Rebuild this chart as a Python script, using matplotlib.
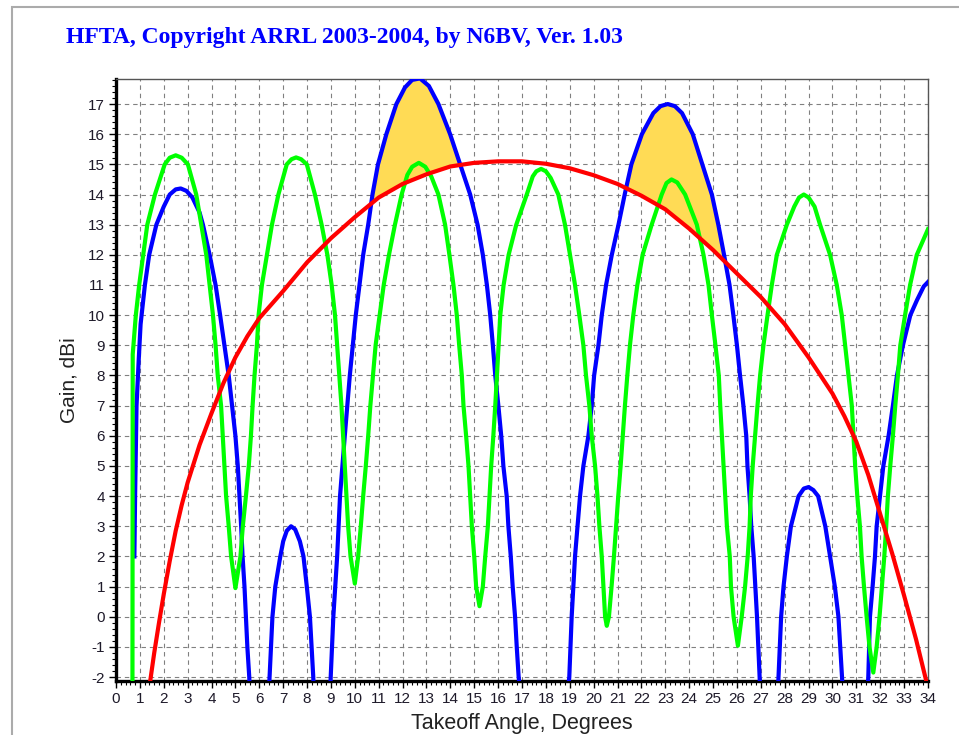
import numpy as np
import matplotlib
matplotlib.use("Agg")
import matplotlib.pyplot as plt
from matplotlib.patches import Rectangle
from matplotlib.ticker import MultipleLocator

plt.rcParams["axes.unicode_minus"] = False

# HFTA elevation response, gain (dBi) vs takeoff angle (degrees)
# values below -2 dBi are deep nulls and get clipped by the axis

blue_x = [0.77, 0.8, 0.86, 0.95, 1.03, 1.21, 1.39, 1.69, 2.0, 2.25, 2.5, 2.71, 2.95, 3.2, 3.5,
          3.64, 3.92, 4.17, 4.36, 4.54, 4.72, 4.86, 5.0, 5.1, 5.17, 5.24, 5.3, 5.38, 5.44, 5.5, 5.58, 5.95,
          6.43, 6.55, 6.67, 6.88, 7.0, 7.15, 7.33, 7.5, 7.7, 7.85, 7.99, 8.12, 8.26, 8.6,
          8.99, 9.1, 9.26, 9.38, 9.58, 9.79, 10.04, 10.35, 10.56, 10.74, 10.97, 11.32, 11.74, 12.1, 12.4,
          12.73, 13.1, 13.5, 13.99, 14.41, 14.83, 15.14, 15.36, 15.53, 15.67, 15.78, 15.88, 16.01, 16.13,
          16.22, 16.36, 16.43, 16.53, 16.61, 16.71, 16.78, 16.86, 17.9,
          18.98, 19.08, 19.22, 19.43, 19.57, 19.78, 19.92, 20.02, 20.2, 20.34, 20.52, 20.76, 21.04, 21.3,
          21.58, 22.02, 22.5, 22.8, 23.1, 23.4, 23.7, 24.15, 24.55, 24.95, 25.22, 25.46, 25.69, 25.85, 26.0,
          26.13, 26.27, 26.39, 26.44, 26.53, 26.6, 26.7, 26.77, 26.84, 26.95, 27.35,
          27.74, 27.85, 27.95, 28.09, 28.26, 28.58, 28.8, 29.0, 29.2, 29.4, 29.7, 29.9, 30.1, 30.25, 30.4, 30.95,
          31.5, 31.57, 31.68, 31.78, 31.85, 31.99, 32.13, 32.35, 32.53, 32.7, 32.95, 33.26, 33.54, 33.82, 34.0]
blue_y = [2.0, 4.0, 7.0, 8.5, 9.7, 11.0, 12.0, 13.0, 13.6, 14.0, 14.17, 14.2, 14.12, 13.9, 13.4,
          13.0, 12.0, 11.0, 10.0, 9.0, 8.0, 7.0, 6.0, 5.0, 4.0, 3.0, 2.0, 1.0, 0.0, -1.0, -2.0, -10,
          -2.0, 0.0, 1.0, 2.0, 2.5, 2.85, 3.0, 2.9, 2.5, 2.0, 1.0, 0.0, -2.0, -10,
          -2.0, 0.0, 2.0, 4.0, 6.0, 8.0, 10.0, 12.0, 13.0, 14.0, 15.0, 16.0, 17.0, 17.55, 17.8,
          17.85, 17.6, 17.0, 16.0, 15.0, 14.0, 13.0, 12.0, 11.0, 10.0, 9.0, 8.0, 7.0, 6.0,
          5.0, 4.0, 3.0, 2.0, 1.0, 0.0, -1.0, -2.0, -10,
          -2.0, 0.0, 2.0, 4.0, 5.0, 6.0, 7.0, 8.0, 9.0, 10.0, 11.0, 12.0, 13.0, 14.0,
          15.0, 16.0, 16.7, 16.93, 17.0, 16.93, 16.7, 16.0, 15.0, 14.0, 13.0, 12.0, 11.0, 10.0, 9.0,
          8.0, 7.0, 6.0, 5.0, 4.0, 3.0, 2.0, 1.0, 0.0, -2.0, -10,
          -2.0, 0.0, 1.0, 2.0, 3.0, 4.0, 4.25, 4.3, 4.2, 4.0, 3.0, 2.0, 1.0, 0.0, -2.0, -10,
          -2.0, 0.0, 1.0, 2.0, 3.0, 4.0, 5.0, 6.0, 7.0, 8.0, 9.0, 10.0, 10.5, 10.95, 11.1]

green_x = [0.68, 0.69, 0.7, 0.83, 0.97, 1.14, 1.31, 1.63, 2.04, 2.25, 2.5, 2.75, 3.01, 3.36, 3.57, 3.78,
           3.92, 4.06, 4.17, 4.26, 4.4, 4.47, 4.54, 4.61, 4.72, 4.82, 5.0, 5.21, 5.31, 5.44, 5.56, 5.65,
           5.72, 5.8, 5.9, 5.97, 6.11, 6.32, 6.53, 6.8, 7.15, 7.35, 7.54, 7.75, 7.99, 8.33, 8.61, 8.85,
           9.03, 9.17, 9.26, 9.35, 9.44, 9.51, 9.58, 9.65, 9.72, 9.82, 10.0, 10.14, 10.25, 10.35, 10.46,
           10.56, 10.65, 10.76, 10.87, 11.04, 11.21, 11.43, 11.68, 11.96, 12.2, 12.4, 12.68, 12.95, 13.2,
           13.5, 13.78, 13.96, 14.13, 14.27, 14.37, 14.48, 14.55, 14.66, 14.76, 14.83, 14.9, 15.0, 15.08,
           15.22, 15.36, 15.46, 15.57, 15.64, 15.71, 15.8, 15.88, 15.95, 16.02, 16.09, 16.23, 16.44, 16.76,
           17.2, 17.45, 17.6, 17.8, 18.0, 18.2, 18.52, 18.8, 19.01, 19.22, 19.4, 19.57, 19.68, 19.82,
           19.92, 20.06, 20.16, 20.24, 20.34, 20.41, 20.48, 20.55, 20.64, 20.75, 20.85, 20.94, 21.03,
           21.13, 21.22, 21.31, 21.41, 21.52, 21.66, 21.83, 22.05, 22.43, 22.85, 23.05, 23.26, 23.5,
           23.83, 24.32, 24.6, 24.81, 24.95, 25.1, 25.24, 25.3, 25.37, 25.44, 25.51, 25.58, 25.7, 25.75,
           25.86, 26.04, 26.2, 26.34, 26.45, 26.53, 26.58, 26.66, 26.76, 26.86, 26.97, 27.11, 27.28,
           27.46, 27.67, 28.09, 28.4, 28.6, 28.8, 29.0, 29.25, 29.48, 29.9, 30.18, 30.39, 30.53, 30.67,
           30.81, 30.88, 30.95, 31.04, 31.15, 31.22, 31.32, 31.43, 31.55, 31.71, 31.85, 31.97, 32.07,
           32.17, 32.25, 32.32, 32.42, 32.53, 32.63, 32.74, 32.84, 33.04, 33.25, 33.53, 34.0]
green_y = [-10, -2.0, 8.7, 10.0, 11.0, 12.0, 13.0, 14.0, 15.0, 15.22, 15.3, 15.22, 15.0, 14.0, 13.0, 12.0,
           11.0, 10.0, 9.0, 8.0, 7.0, 6.0, 5.0, 4.0, 3.0, 2.0, 0.95, 2.0, 3.0, 4.0, 5.0, 6.0,
           7.0, 8.0, 9.0, 10.0, 11.0, 12.0, 13.0, 14.0, 15.0, 15.17, 15.23, 15.17, 15.0, 14.0, 13.0, 12.0,
           11.0, 10.0, 9.0, 8.0, 7.0, 6.0, 5.0, 4.0, 3.0, 2.0, 1.1, 2.0, 3.0, 4.0, 5.0,
           6.0, 7.0, 8.0, 9.0, 10.0, 11.0, 12.0, 13.0, 14.0, 14.65, 14.92, 15.05, 14.92, 14.6,
           14.0, 13.0, 12.0, 11.0, 10.0, 9.0, 8.0, 7.0, 6.0, 5.0, 4.0, 3.0, 2.0, 1.0,
           0.35, 1.0, 2.0, 3.0, 4.0, 5.0, 6.0, 7.0, 8.0, 9.0, 10.0, 11.0, 12.0, 13.0,
           14.0, 14.6, 14.77, 14.85, 14.77, 14.55, 14.0, 13.0, 12.0, 11.0, 10.0, 9.0, 8.0, 7.0,
           6.0, 5.0, 4.0, 3.0, 2.0, 1.0, 0.0, -0.3, 0.0, 1.0, 2.0, 3.0, 4.0,
           5.0, 6.0, 7.0, 8.0, 9.0, 10.0, 11.0, 12.0, 13.0, 14.0, 14.38, 14.5, 14.4,
           14.0, 13.0, 12.0, 11.0, 10.0, 9.0, 8.0, 7.0, 6.0, 5.0, 4.0, 3.0, 2.0, 1.0,
           0.0, -0.96, 0.0, 1.0, 2.0, 3.0, 4.0, 5.0, 6.0, 7.0, 8.0, 9.0, 10.0,
           11.0, 12.0, 13.0, 13.6, 13.9, 14.0, 13.9, 13.6, 13.0, 12.0, 11.0, 10.0, 9.0, 8.0,
           7.0, 6.0, 5.0, 4.0, 3.0, 2.0, 1.0, 0.0, -1.0, -1.85, -1.0, 0.0, 1.0,
           2.0, 3.0, 4.0, 5.0, 6.0, 7.0, 8.0, 9.0, 10.0, 11.0, 12.0, 12.85]

red_x = [1.42, 1.6, 1.8, 2.0, 2.25, 2.5, 2.75, 3.0, 3.5, 4.0, 4.5, 5.0, 5.5, 6.0, 7.0, 8.0, 9.0, 10.0,
         11.0, 12.0, 13.0, 14.0, 15.0, 16.0, 17.0, 18.0, 19.0, 20.0, 21.0, 22.0, 23.0, 24.0, 25.0,
         26.0, 27.0, 28.0, 29.0, 29.5, 30.0, 30.5, 31.0, 31.5, 32.0, 32.5, 33.0, 33.5, 33.95]
red_y = [-2.2, -1.2, -0.2, 0.75, 1.85, 2.85, 3.7, 4.45, 5.7, 6.75, 7.75, 8.6, 9.3, 9.9, 10.8, 11.75,
         12.55, 13.25, 13.9, 14.35, 14.67, 14.93, 15.05, 15.1, 15.1, 15.02, 14.87, 14.64, 14.35, 13.96,
         13.51, 12.87, 12.16, 11.38, 10.6, 9.7, 8.6, 8.0, 7.4, 6.65, 5.8, 4.7, 3.4, 2.1, 0.7, -0.75, -2.2]

title = "HFTA, Copyright ARRL 2003-2004, by N6BV, Ver. 1.03"

fig = plt.figure(figsize=(9.59, 7.35), dpi=100)
fig.patch.set_facecolor("white")

# window frame of the screenshot
fig.patches.append(Rectangle((12 / 959, -0.1), 1.2, 1.1 - 7 / 735, transform=fig.transFigure,
                             fill=False, edgecolor="#ababab", linewidth=1.5))

fig.text(66 / 959, 1 - 38 / 735, title, family="Liberation Serif", fontweight="bold",
         fontsize=17, color="#0000ff", va="center", ha="left")

ax = fig.add_axes([116 / 959, 1 - 681 / 735, (928 - 116) / 959, (681 - 79) / 735])

# highlight where the blue pattern beats the red one around the main lobes
xf = np.linspace(9, 27, 3000)
bf = np.interp(xf, blue_x, blue_y)
rf = np.interp(xf, red_x, red_y)
ax.fill_between(xf, rf, bf, where=bf > rf, color="#ffdb55", linewidth=0, zorder=1)

ax.plot(blue_x, blue_y, color="#0000ff", linewidth=3.0, zorder=3)
ax.plot(green_x, green_y, color="#00ff00", linewidth=3.0, zorder=4)
ax.plot(red_x, red_y, color="#ff0000", linewidth=3.0, zorder=5)

ax.set_xlim(0, 34)
ax.set_ylim(-2.13, 17.83)
ax.xaxis.set_major_locator(MultipleLocator(1))
ax.xaxis.set_minor_locator(MultipleLocator(0.2))
ax.yaxis.set_major_locator(MultipleLocator(1))
ax.yaxis.set_minor_locator(MultipleLocator(0.2))
ax.grid(True, which="major", color="#808080", linestyle=(0, (4, 3.5)), linewidth=0.8, zorder=0)
ax.set_axisbelow(True)

ax.tick_params(which="major", direction="out", length=5, width=1, color="black",
               labelsize=11, labelcolor="#1e1a2a", pad=3)
ax.tick_params(which="minor", direction="out", length=3, width=0.8, color="black")
for lab in ax.get_xticklabels() + ax.get_yticklabels():
    lab.set_family("Liberation Sans")

for side in ["left", "bottom"]:
    ax.spines[side].set_linewidth(2.4)
    ax.spines[side].set_color("black")
for side in ["top", "right"]:
    ax.spines[side].set_linewidth(1.0)
    ax.spines[side].set_color("#555555")

ax.set_xlabel("Takeoff Angle, Degrees", family="Liberation Sans", fontsize=15.5, labelpad=5, color="#222222")
ax.set_ylabel("Gain, dBi", family="Liberation Sans", fontsize=15, labelpad=7, color="#222222")

fig.savefig("out.png", dpi=100)
